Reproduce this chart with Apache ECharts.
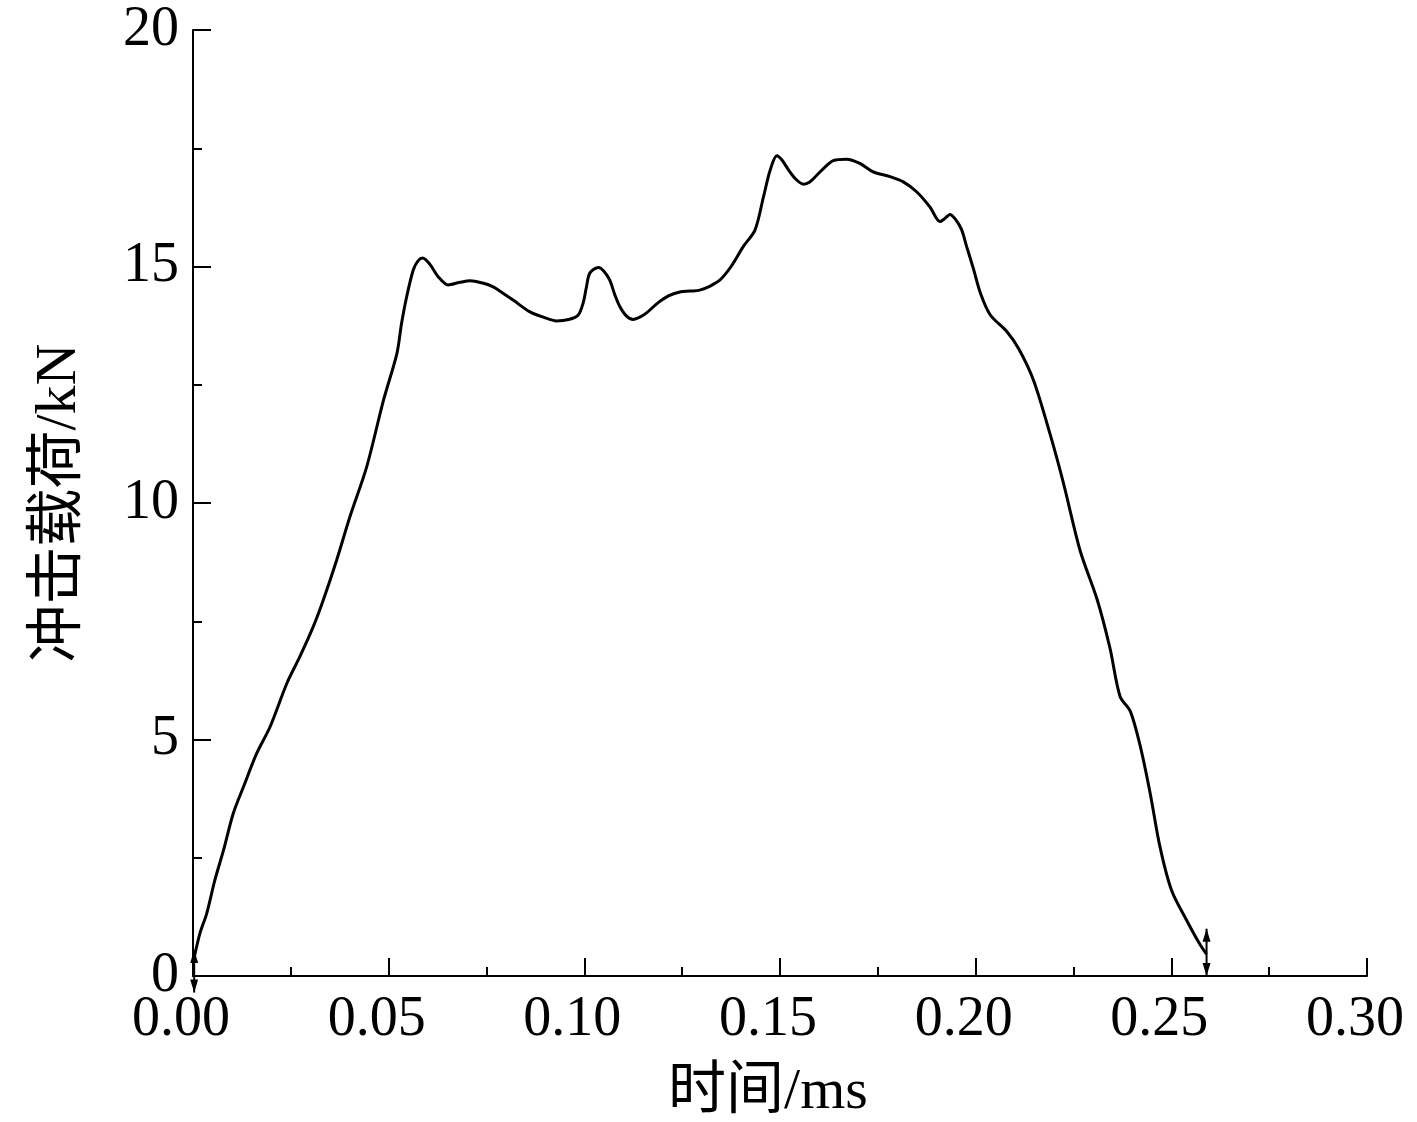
<!DOCTYPE html>
<html>
<head>
<meta charset="utf-8">
<script src="https://cdn.jsdelivr.net/npm/echarts@6/dist/echarts.min.js"></script>
<style>
  html, body { margin: 0; padding: 0; background: #fff; }
  #impact-load { width: 1417px; height: 1122px; }
</style>
</head>
<body>
<div id="impact-load"></div>
<script>
  // 时间 (ms)
  var timeMs = [
    0.0002, 0.0018, 0.0035, 0.0056, 0.0078, 0.0103, 0.0129, 0.0163, 0.0197, 0.0240,
    0.0273, 0.0307, 0.0333, 0.0367, 0.0401, 0.0444, 0.0487, 0.0521, 0.0533, 0.0546,
    0.0563, 0.0575, 0.0587, 0.0605, 0.0627, 0.0652, 0.0680, 0.0708, 0.0740, 0.0767,
    0.0795, 0.0818, 0.0861, 0.0895, 0.0929, 0.0960, 0.0984, 0.0997, 0.1005, 0.1014,
    0.1036, 0.1050, 0.1065, 0.1078, 0.1091, 0.1108, 0.1125, 0.1142, 0.1159, 0.1188,
    0.1215, 0.1244, 0.1270, 0.1295, 0.1320, 0.1346, 0.1375, 0.1406, 0.1436, 0.1458,
    0.1475, 0.1492, 0.1505, 0.1522, 0.1540, 0.1560, 0.1575, 0.1594, 0.1615, 0.1636,
    0.1670, 0.1704, 0.1738, 0.1781, 0.1815, 0.1849, 0.1883, 0.1909, 0.1922, 0.1934,
    0.1948, 0.1964, 0.1977, 0.1994, 0.2012, 0.2037, 0.2080, 0.2110, 0.2148, 0.2190,
    0.2224, 0.2267, 0.2310, 0.2343, 0.2369, 0.2395, 0.2420, 0.2446, 0.2471, 0.2501,
    0.2539, 0.2573, 0.2590
  ];
  // 冲击载荷 (kN)
  var loadKN = [
    0.35, 0.91, 1.32, 2.03, 2.66, 3.44, 4.00, 4.71, 5.27, 6.19,
    6.75, 7.38, 7.95, 8.79, 9.71, 10.77, 12.18, 13.16, 13.80, 14.36,
    14.93, 15.12, 15.18, 15.05, 14.78, 14.61, 14.66, 14.70, 14.65, 14.57,
    14.42, 14.29, 14.04, 13.93, 13.85, 13.88, 13.97, 14.23, 14.55, 14.86,
    14.98, 14.90, 14.71, 14.40, 14.15, 13.95, 13.88, 13.93, 14.02, 14.23,
    14.38, 14.46, 14.48, 14.50, 14.58, 14.71, 15.00, 15.42, 15.77, 16.48,
    17.04, 17.34, 17.25, 17.04, 16.85, 16.74, 16.78, 16.93, 17.10, 17.24,
    17.27, 17.18, 17.00, 16.90, 16.79, 16.58, 16.26, 15.95, 16.02, 16.10,
    16.00, 15.78, 15.42, 14.96, 14.44, 13.98, 13.62, 13.26, 12.59, 11.46,
    10.43, 8.99, 7.97, 6.94, 5.91, 5.60, 4.88, 3.86, 2.73, 1.80,
    1.18, 0.67, 0.46
  ];
  // 起止光标 [时间, 下端, 上端]
  var cursorMarks = [
    [0.0003, -0.35, 0.55],
    [0.2590, 0.0, 1.0]
  ];

  var serif = "'Liberation Serif', 'Times New Roman', 'Noto Sans CJK SC', serif";

  var loadData = timeMs.map(function (t, i) { return [t, loadKN[i]]; });

  function arrowHead(x, y, dir) {
    // dir: -1 points up, 1 points down
    return {
      type: 'polygon',
      shape: { points: [[x, y], [x - 4, y - dir * 13], [x + 4, y - dir * 13]] },
      style: { fill: '#000' }
    };
  }

  var option = {
    animation: false,
    backgroundColor: '#fff',
    grid: { left: 193, right: 50, top: 30, bottom: 146, outerBoundsMode: 'none' },
    xAxis: {
      type: 'value',
      min: 0,
      max: 0.3,
      interval: 0.05,
      name: '时间/ms',
      nameLocation: 'middle',
      nameGap: 88,
      nameTextStyle: { fontFamily: serif, fontSize: 58, color: '#000', padding: [0, 24, 0, 0] },
      axisLine: { onZero: false, lineStyle: { color: '#000', width: 2 } },
      axisTick: { inside: true, length: 18, lineStyle: { color: '#000', width: 2 } },
      minorTick: { show: true, splitNumber: 2, length: 9, lineStyle: { color: '#000', width: 2 } },
      splitLine: { show: false },
      axisLabel: {
        margin: 16,
        fontFamily: serif,
        fontSize: 56,
        color: '#000',
        padding: [0, 24, 0, 0],
        formatter: function (v) { return v.toFixed(2); }
      }
    },
    yAxis: {
      type: 'value',
      min: 0,
      max: 20,
      interval: 5,
      name: '冲击载荷/kN',
      nameLocation: 'middle',
      nameGap: 104,
      nameTextStyle: { fontFamily: serif, fontSize: 58, color: '#000' },
      axisLine: { show: true, lineStyle: { color: '#000', width: 2 } },
      axisTick: { show: true, inside: true, length: 18, lineStyle: { color: '#000', width: 2 } },
      minorTick: { show: true, splitNumber: 2, length: 9, lineStyle: { color: '#000', width: 2 } },
      splitLine: { show: false },
      axisLabel: { margin: 14, fontFamily: serif, fontSize: 56, color: '#000' }
    },
    series: [
      {
        name: '冲击载荷',
        type: 'line',
        data: loadData,
        showSymbol: false,
        smooth: 0.3,
        lineStyle: { color: '#000', width: 3 }
      },
      {
        name: '光标',
        type: 'custom',
        data: cursorMarks,
        clip: false,
        silent: true,
        renderItem: function (params, api) {
          var bottom = api.coord([api.value(0), api.value(1)]);
          var top = api.coord([api.value(0), api.value(2)]);
          return {
            type: 'group',
            children: [
              {
                type: 'line',
                shape: { x1: top[0], y1: top[1], x2: bottom[0], y2: bottom[1] },
                style: { stroke: '#000', lineWidth: 2 }
              },
              arrowHead(top[0], top[1], -1),
              arrowHead(bottom[0], bottom[1], 1)
            ]
          };
        }
      }
    ]
  };

  var chart = echarts.init(document.getElementById('impact-load'));
  chart.setOption(option);
  window.addEventListener('resize', function () {
    chart.resize();
  });
</script>
</body>
</html>
